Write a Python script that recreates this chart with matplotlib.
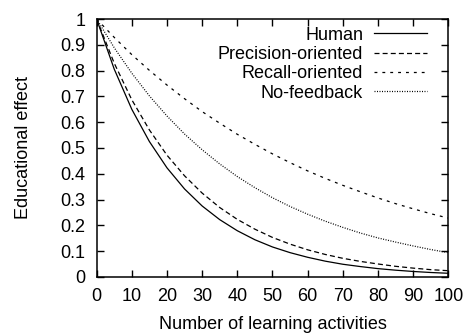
import matplotlib
matplotlib.use("Agg")
import matplotlib.pyplot as plt

plt.rcParams["font.family"] = ["Liberation Sans", "DejaVu Sans"]

# values at every 5 activities
activities = list(range(0, 101, 5))
human = [1.0, 0.806, 0.650, 0.525, 0.423, 0.341, 0.275, 0.222, 0.179, 0.144, 0.116,
         0.094, 0.076, 0.061, 0.049, 0.040, 0.032, 0.026, 0.021, 0.017, 0.014]
precision = [1.0, 0.829, 0.687, 0.570, 0.472, 0.392, 0.325, 0.269, 0.223, 0.185, 0.153,
             0.127, 0.105, 0.087, 0.072, 0.060, 0.050, 0.041, 0.034, 0.028, 0.024]
recall = [1.0, 0.929, 0.862, 0.801, 0.744, 0.691, 0.641, 0.596, 0.553, 0.514, 0.477,
          0.443, 0.411, 0.382, 0.355, 0.330, 0.306, 0.284, 0.264, 0.245, 0.228]
no_feedback = [1.0, 0.889, 0.790, 0.702, 0.624, 0.554, 0.493, 0.438, 0.389, 0.346, 0.307,
               0.273, 0.243, 0.216, 0.192, 0.170, 0.151, 0.135, 0.120, 0.106, 0.094]

x_ticks = list(range(0, 101, 10))
y_ticks = [0, 0.1, 0.2, 0.3, 0.4, 0.5, 0.6, 0.7, 0.8, 0.9, 1]
y_tick_labels = ["0", "0.1", "0.2", "0.3", "0.4", "0.5", "0.6", "0.7", "0.8", "0.9", "1"]

FONT_SIZE = 13

fig = plt.figure(figsize=(4.69, 3.34), dpi=100)
ax = fig.add_axes([0.206, 0.171, 0.750, 0.772])

lw = 0.9
ax.plot(activities, human, color="black", lw=lw, linestyle="-", label="Human")
ax.plot(activities, precision, color="black", lw=lw, linestyle=(0, (4, 2.5)), label="Precision-oriented")
ax.plot(activities, recall, color="black", lw=lw, linestyle=(0, (2.3, 4)), label="Recall-oriented")
ax.plot(activities, no_feedback, color="black", lw=lw, linestyle=(0, (0.8, 1.2)), label="No-feedback")

ax.set_xlim(0, 100)
ax.set_ylim(0, 1)
ax.set_xticks(x_ticks)
ax.set_yticks(y_ticks)
ax.set_yticklabels(y_tick_labels)
ax.tick_params(direction="in", length=5, width=1, top=True, right=True, labelsize=FONT_SIZE, pad=8)
for spine in ax.spines.values():
    spine.set_linewidth(1.1)

ax.set_xlabel("Number of learning activities", fontsize=FONT_SIZE)
ax.set_ylabel("Educational effect", fontsize=FONT_SIZE)
ax.xaxis.set_label_coords(0.5, -0.152)
ax.yaxis.set_label_coords(-0.183, 0.5)

ax.legend(
    loc="upper right",
    bbox_to_anchor=(0.939, 0.97),
    frameon=False,
    markerfirst=False,
    fontsize=FONT_SIZE,
    handlelength=2.93,
    handletextpad=0.6,
    labelspacing=0.13,
    borderaxespad=0,
    borderpad=0,
)

fig.savefig("out.png", dpi=100)
